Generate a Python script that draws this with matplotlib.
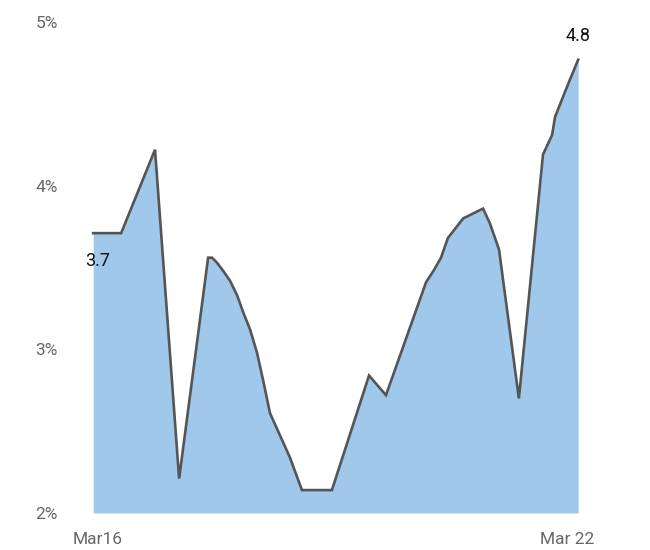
import matplotlib
matplotlib.use("Agg")
import matplotlib.pyplot as plt

# hours since Mar 16 00:00
hours = [-1.5, 7.1, 17.5, 24.9, 33.8, 35.0, 36.5, 38.4, 40.5, 42.7, 44.5, 46.7,
         48.8, 50.7, 52.8, 58.9, 62.6,
         71.8, 83.2, 88.4, 100.7, 103.0, 105.3, 107.4, 112.1, 118.2, 120.3, 123.1,
         129.2, 136.6, 139.4, 140.3, 144.3, 147.4]
rate = [3.71, 3.71, 4.22, 2.21, 3.56, 3.56, 3.53, 3.48, 3.42, 3.33, 3.23, 3.12,
        2.98, 2.81, 2.61, 2.34, 2.14,
        2.14, 2.84, 2.72, 3.41, 3.48, 3.56, 3.68, 3.80, 3.86, 3.77, 3.61,
        2.70, 4.19, 4.31, 4.42, 4.62, 4.77]
y_ticks = [2, 3, 4, 5]
y_labels = ["2%", "3%", "4%", "5%"]
x_ticks = [0, 144]
x_labels = ["Mar16", "Mar 22"]
first_label = "3.7"
last_label = "4.8"

plt.rcParams['font.family'] = ['Roboto', 'DejaVu Sans']

fig = plt.figure(figsize=(6.5, 5.5), dpi=100)
ax = fig.add_axes([80/650, 37/550, 520/650, 491/550])

ax.fill_between(hours, rate, 2, color="#9fc8ea", linewidth=0, zorder=1)
ax.plot(hours, rate, color="#555555", linewidth=1.9, zorder=2, solid_joinstyle="miter")

ax.set_xlim(-5.53, 154.1)
ax.set_ylim(2, 5)

ax.set_yticks(y_ticks)
ax.set_yticklabels(y_labels)
ax.set_xticks(x_ticks)
ax.set_xticklabels(x_labels)
ax.tick_params(axis="both", length=0, colors="#666666", labelsize=12.5)
ax.tick_params(axis="y", pad=16)
ax.tick_params(axis="x", pad=14)
for s in ax.spines.values():
    s.set_visible(False)

ax.annotate(first_label, (0, rate[0]), xytext=(0, -28), textcoords="offset pixels",
            ha="center", va="center", fontsize=13, color="#111111")
ax.annotate(last_label, (hours[-1], rate[-1]), xytext=(0, 24), textcoords="offset pixels",
            ha="center", va="center", fontsize=13, color="#111111")

fig.savefig("out.png", dpi=100)
